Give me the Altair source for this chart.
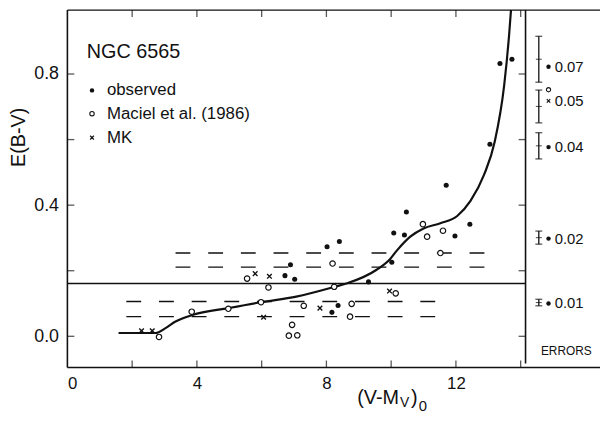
import altair as alt
import pandas as pd

# ---------------- data ----------------
obs_x = [13.36, 13.73, 13.05, 11.70, 10.47, 10.08, 10.41, 12.43, 11.97, 8.02, 8.40, 10.02, 6.89, 6.72, 7.02, 9.30, 8.36, 8.17]
obs_y = [0.832, 0.845, 0.586, 0.461, 0.379, 0.315, 0.309, 0.342, 0.306, 0.273, 0.289, 0.226, 0.218, 0.185, 0.174, 0.166, 0.094, 0.073]

mac_x = [10.98, 11.60, 11.11, 11.52, 8.19, 5.55, 6.21, 8.24, 10.14, 5.98, 4.97, 3.84, 7.30, 8.78, 8.73, 6.94, 6.84, 7.10, 2.83]
mac_y = [0.342, 0.322, 0.304, 0.254, 0.222, 0.176, 0.149, 0.151, 0.131, 0.104, 0.084, 0.075, 0.093, 0.099, 0.060, 0.035, 0.002, 0.003, -0.002]

mk_x = [5.80, 6.24, 9.95, 7.80, 6.06, 2.29, 2.62]
mk_y = [0.191, 0.183, 0.138, 0.086, 0.058, 0.017, 0.017]

curve_x = [1.58, 2.72, 3.03, 3.34, 3.86, 4.97, 5.98, 7.07, 8.26, 8.62, 9.55, 9.97, 10.18, 10.59,
           11.00, 11.52, 12.04, 12.45, 12.87, 13.20, 13.49, 13.64, 13.72]
curve_y = [0.010, 0.010, 0.025, 0.045, 0.065, 0.086, 0.104, 0.121, 0.151, 0.161, 0.203, 0.236, 0.262, 0.304,
           0.329, 0.345, 0.367, 0.413, 0.493, 0.594, 0.765, 0.916, 1.02]

ref_level = [0.161]
dash_y = [0.254, 0.211, 0.106, 0.060]
dash_x1 = [3.34, 3.34, 1.82, 1.82]
dash_x2 = [13.07, 13.07, 11.52, 11.52]

err_labels = ["0.07", "0.05", "0.04", "0.02", "0.01"]
err_center = [0.845, 0.701, 0.581, 0.301, 0.103]
err_half = [0.07, 0.05, 0.04, 0.02, 0.01]
err_label_y = [0.822, 0.717, 0.577, 0.298, 0.100]
err_dot_y = [0.822, 0.577, 0.298, 0.100]
err_open_y = [0.752]
err_x_y = [0.718]

x_ticks = [2, 4, 6, 8, 10, 12, 14]
x_labels = [0, 4, 8, 12]
y_ticks = [0.0, 0.2, 0.4, 0.6, 0.8]
y_labels = [0.0, 0.4, 0.8]

legend_labels = ["observed", "Maciel et al. (1986)", "MK"]
legend_y = [0.750, 0.679, 0.606]

# ---------------- layout constants ----------------
XMIN, XMAX = 0.0, 16.45
YMIN, YMAX = -0.095, 0.995
PANEL = 14.15
ERR_BAR_X, ERR_DOT_X, ERR_LABEL_X, ERR_TITLE_X = 14.56, 14.86, 15.05, 15.41
LEG_MARK_X, LEG_TEXT_X = 0.76, 1.22
FONT = "Liberation Sans"
INK = "#111111"

xs = alt.Scale(domain=[XMIN, XMAX], nice=False, zero=False)
ys = alt.Scale(domain=[YMIN, YMAX], nice=False, zero=False)

X_AXIS = alt.Axis(values=x_labels, format="d", ticks=False, domain=False, grid=False, title=None,
                  labelFontSize=17, labelPadding=8, labelFont=FONT, labelColor=INK)
Y_AXIS = alt.Axis(values=y_labels, format=".1f", ticks=False, domain=False, grid=False, title=None,
                  labelFontSize=18, labelPadding=9, labelFont=FONT, labelColor=INK)


def X(field="x"):
    return alt.X(f"{field}:Q", scale=xs, axis=X_AXIS, title=None)


def Y(field="y"):
    return alt.Y(f"{field}:Q", scale=ys, axis=Y_AXIS, title=None)


x_shape = "M-1,-1L1,1M-1,1L1,-1"

frame_df = pd.DataFrame({"x": [XMIN], "x2": [XMAX], "y": [YMIN], "y2": [YMAX]})

# frame lines
left_line = alt.Chart(frame_df).mark_rule(color=INK, strokeWidth=1.6).encode(x=X("x"), y=Y("y"), y2="y2:Q")
bottom_line = alt.Chart(frame_df).mark_rule(color=INK, strokeWidth=1.6).encode(x=X("x"), x2="x2:Q", y=Y("y"))
top_line = alt.Chart(frame_df).mark_rule(color=INK, strokeWidth=1.3).encode(x=X("x"), x2="x2:Q", y=Y("y2"))
panel_line = alt.Chart(pd.DataFrame({"x": [PANEL], "y": [YMIN + 0.012], "y2": [YMAX]})).mark_rule(
    color=INK, strokeWidth=1.6).encode(x=X("x"), y=Y("y"), y2="y2:Q")

# inward ticks
bt = pd.DataFrame({"x": x_ticks, "y": [YMIN] * len(x_ticks)})
tt = pd.DataFrame({"x": x_ticks, "y": [YMAX] * len(x_ticks)})
lt = pd.DataFrame({"x": [XMIN] * len(y_ticks), "y": y_ticks})
rt = pd.DataFrame({"x": [PANEL] * len(y_ticks), "y": y_ticks})
bottom_ticks = alt.Chart(bt).mark_tick(orient="vertical", size=7, thickness=1.3, color=INK, yOffset=-3.5).encode(
    x=X("x"), y=Y("y"))
top_ticks = alt.Chart(tt).mark_tick(orient="vertical", size=7, thickness=1.3, color=INK, yOffset=3.5).encode(
    x=X("x"), y=Y("y"))
left_ticks = alt.Chart(lt).mark_tick(orient="horizontal", size=7, thickness=1.3, color=INK, xOffset=3.5).encode(
    x=X("x"), y=Y("y"))
right_ticks = alt.Chart(rt).mark_tick(orient="horizontal", size=7, thickness=1.3, color=INK, xOffset=-3.5).encode(
    x=X("x"), y=Y("y"))

# reference lines
solid = alt.Chart(pd.DataFrame({"x": [XMIN], "x2": [PANEL], "y": ref_level})).mark_rule(
    color=INK, strokeWidth=1.3).encode(x=X("x"), x2="x2:Q", y=Y("y"))
dashes = alt.Chart(pd.DataFrame({"x": dash_x1, "x2": dash_x2, "y": dash_y})).mark_rule(
    color=INK, strokeWidth=1.4, strokeDash=[15, 18]).encode(x=X("x"), x2="x2:Q", y=Y("y"))

# curve
curve = alt.Chart(pd.DataFrame({"x": curve_x, "y": curve_y})).mark_line(
    color=INK, strokeWidth=2.2, interpolate="monotone", clip=True).encode(x=X("x"), y=Y("y"), order="x:Q")

# data points
obs = alt.Chart(pd.DataFrame({"x": obs_x, "y": obs_y})).mark_point(
    shape="circle", filled=True, size=26, color=INK, opacity=1).encode(x=X("x"), y=Y("y"))
mac = alt.Chart(pd.DataFrame({"x": mac_x, "y": mac_y})).mark_point(
    shape="circle", filled=False, size=30, stroke=INK, strokeWidth=1.2, fill="white", fillOpacity=1,
    opacity=1).encode(x=X("x"), y=Y("y"))
mk = alt.Chart(pd.DataFrame({"x": mk_x, "y": mk_y})).mark_point(
    shape=x_shape, filled=False, size=22, stroke=INK, strokeWidth=1.4, opacity=1).encode(x=X("x"), y=Y("y"))

# legend
leg_title = alt.Chart(pd.DataFrame({"x": [0.60], "y": [0.850], "t": ["NGC 6565"]})).mark_text(
    align="left", baseline="alphabetic", fontSize=20, font=FONT, color=INK).encode(x=X("x"), y=Y("y"), text="t:N")
leg_text = alt.Chart(pd.DataFrame({"x": [LEG_TEXT_X] * 3, "y": legend_y, "t": legend_labels})).mark_text(
    align="left", baseline="middle", fontSize=17, font=FONT, color=INK).encode(x=X("x"), y=Y("y"), text="t:N")
leg_obs = alt.Chart(pd.DataFrame({"x": [LEG_MARK_X], "y": [legend_y[0]]})).mark_point(
    shape="circle", filled=True, size=20, color=INK, opacity=1).encode(x=X("x"), y=Y("y"))
leg_mac = alt.Chart(pd.DataFrame({"x": [LEG_MARK_X], "y": [legend_y[1]]})).mark_point(
    shape="circle", filled=False, size=20, stroke=INK, strokeWidth=1.1, opacity=1).encode(x=X("x"), y=Y("y"))
leg_mk = alt.Chart(pd.DataFrame({"x": [LEG_MARK_X], "y": [legend_y[2]]})).mark_point(
    shape=x_shape, filled=False, size=14, stroke=INK, strokeWidth=1.2, opacity=1).encode(x=X("x"), y=Y("y"))

# error panel
err_df = pd.DataFrame({
    "x": [ERR_BAR_X] * len(err_center),
    "lo": [c - h for c, h in zip(err_center, err_half)],
    "hi": [c + h for c, h in zip(err_center, err_half)],
    "c": err_center,
})
err_bars = alt.Chart(err_df).mark_rule(color=INK, strokeWidth=1.3).encode(x=X("x"), y=Y("lo"), y2="hi:Q")
err_cap_lo = alt.Chart(err_df).mark_tick(orient="horizontal", size=7, thickness=1.3, color=INK).encode(
    x=X("x"), y=Y("lo"))
err_cap_hi = alt.Chart(err_df).mark_tick(orient="horizontal", size=7, thickness=1.3, color=INK).encode(
    x=X("x"), y=Y("hi"))
err_mid = alt.Chart(err_df).mark_tick(orient="horizontal", size=6, thickness=1.1, color=INK).encode(
    x=X("x"), y=Y("c"))
err_dots = alt.Chart(pd.DataFrame({"x": [ERR_DOT_X] * len(err_dot_y), "y": err_dot_y})).mark_point(
    shape="circle", filled=True, size=20, color=INK, opacity=1).encode(x=X("x"), y=Y("y"))
err_open = alt.Chart(pd.DataFrame({"x": [ERR_DOT_X], "y": err_open_y})).mark_point(
    shape="circle", filled=False, size=18, stroke=INK, strokeWidth=1.1, opacity=1).encode(x=X("x"), y=Y("y"))
err_x = alt.Chart(pd.DataFrame({"x": [ERR_DOT_X], "y": err_x_y})).mark_point(
    shape=x_shape, filled=False, size=12, stroke=INK, strokeWidth=1.2, opacity=1).encode(x=X("x"), y=Y("y"))
err_text = alt.Chart(pd.DataFrame({"x": [ERR_LABEL_X] * len(err_labels), "y": err_label_y, "t": err_labels})).mark_text(
    align="left", baseline="middle", fontSize=15, font=FONT, color=INK).encode(x=X("x"), y=Y("y"), text="t:N")
err_title = alt.Chart(pd.DataFrame({"x": [ERR_TITLE_X], "y": [-0.045], "t": ["ERRORS"]})).mark_text(
    align="center", baseline="middle", fontSize=12, font=FONT, color=INK).encode(x=X("x"), y=Y("y"), text="t:N")

# axis titles
y_title = alt.Chart(pd.DataFrame({"y": [0.607], "t": ["E(B-V)"]})).mark_text(
    angle=270, align="center", baseline="middle", fontSize=20, font=FONT, color=INK).encode(
    x=alt.value(-49), y=Y("y"), text="t:N")

xt_parts = pd.DataFrame({"t": ["(V-M", "V", ")", "0"]})
x_title_main = alt.Chart(xt_parts.iloc[[0]]).mark_text(
    align="right", baseline="alphabetic", fontSize=20, font=FONT, color=INK).encode(
    x=alt.value(335), y=alt.value(398), text="t:N")
x_title_sub = alt.Chart(xt_parts.iloc[[1]]).mark_text(
    align="left", baseline="alphabetic", fontSize=14, font=FONT, color=INK).encode(
    x=alt.value(336), y=alt.value(401), text="t:N")
x_title_par = alt.Chart(xt_parts.iloc[[2]]).mark_text(
    align="left", baseline="alphabetic", fontSize=20, font=FONT, color=INK).encode(
    x=alt.value(347), y=alt.value(398), text="t:N")
x_title_sub0 = alt.Chart(xt_parts.iloc[[3]]).mark_text(
    align="left", baseline="alphabetic", fontSize=15, font=FONT, color=INK).encode(
    x=alt.value(355), y=alt.value(405), text="t:N")

chart = alt.layer(
    left_line, bottom_line, top_line, panel_line,
    bottom_ticks, top_ticks, left_ticks, right_ticks,
    solid, dashes, curve, obs, mac, mk,
    leg_title, leg_text, leg_obs, leg_mac, leg_mk,
    err_bars, err_cap_lo, err_cap_hi, err_mid, err_dots, err_open, err_x, err_text, err_title,
    y_title, x_title_main, x_title_sub, x_title_par, x_title_sub0,
).properties(
    width=538, height=361,
    padding={"left": 60, "top": 0, "right": 0, "bottom": 52},
    autosize=alt.AutoSizeParams(type="none"),
    background="white",
).configure_view(stroke=None)

chart.save("out.html", embed_options={"renderer": "svg", "actions": False})
